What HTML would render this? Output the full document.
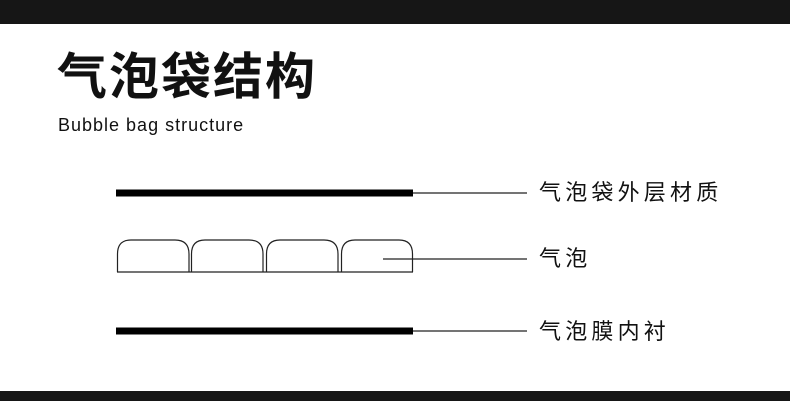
<!DOCTYPE html>
<html><head><meta charset="utf-8"><style>
html,body{margin:0;padding:0;background:#fff;}
body{width:790px;height:401px;position:relative;overflow:hidden;}
.t{position:absolute;white-space:nowrap;color:#111;}
</style></head><body>
<div style="position:absolute;left:0;top:0;width:790px;height:24px;background:#161616"></div>
<div style="position:absolute;left:0;top:391px;width:790px;height:10px;background:#161616"></div>
<div class="t" style="left:57px;top:43px;font:bold 50px/60px 'Noto Sans CJK SC',sans-serif;letter-spacing:2px">气泡袋结构</div>
<div class="t" style="left:58px;top:115px;font:18px/21px 'Liberation Sans',sans-serif;letter-spacing:1px">Bubble bag structure</div>
<svg style="position:absolute;left:0;top:0" width="790" height="401">
<rect x="116" y="189.5" width="297" height="7" fill="#000"/>
<rect x="116" y="327.5" width="297" height="7" fill="#000"/>
<g fill="none" stroke="#222" stroke-width="1.2">
<line x1="413" y1="193" x2="527" y2="193"/>
<line x1="413" y1="331" x2="527" y2="331"/>
<line x1="383" y1="259" x2="527" y2="259"/>
<line x1="117" y1="272" x2="413" y2="272"/>
<path d="M117.5 272 V254 Q117.5 240 131 240 H175 Q189 240 189 254 V272"/>
<path d="M191.5 272 V254 Q191.5 240 205 240 H249 Q263 240 263 254 V272"/>
<path d="M266.5 272 V254 Q266.5 240 280 240 H324 Q338 240 338 254 V272"/>
<path d="M341.5 272 V254 Q341.5 240 355 240 H399 Q412.5 240 412.5 254 V272"/>
</g>
</svg>
<div class="t" style="left:539px;top:177px;font:22px/28px 'Noto Sans CJK SC',sans-serif;letter-spacing:4.2px">气泡袋外层材质</div>
<div class="t" style="left:539px;top:243px;font:22px/28px 'Noto Sans CJK SC',sans-serif;letter-spacing:4.2px">气泡</div>
<div class="t" style="left:539px;top:316px;font:22px/28px 'Noto Sans CJK SC',sans-serif;letter-spacing:4.2px">气泡膜内衬</div>
</body></html>
